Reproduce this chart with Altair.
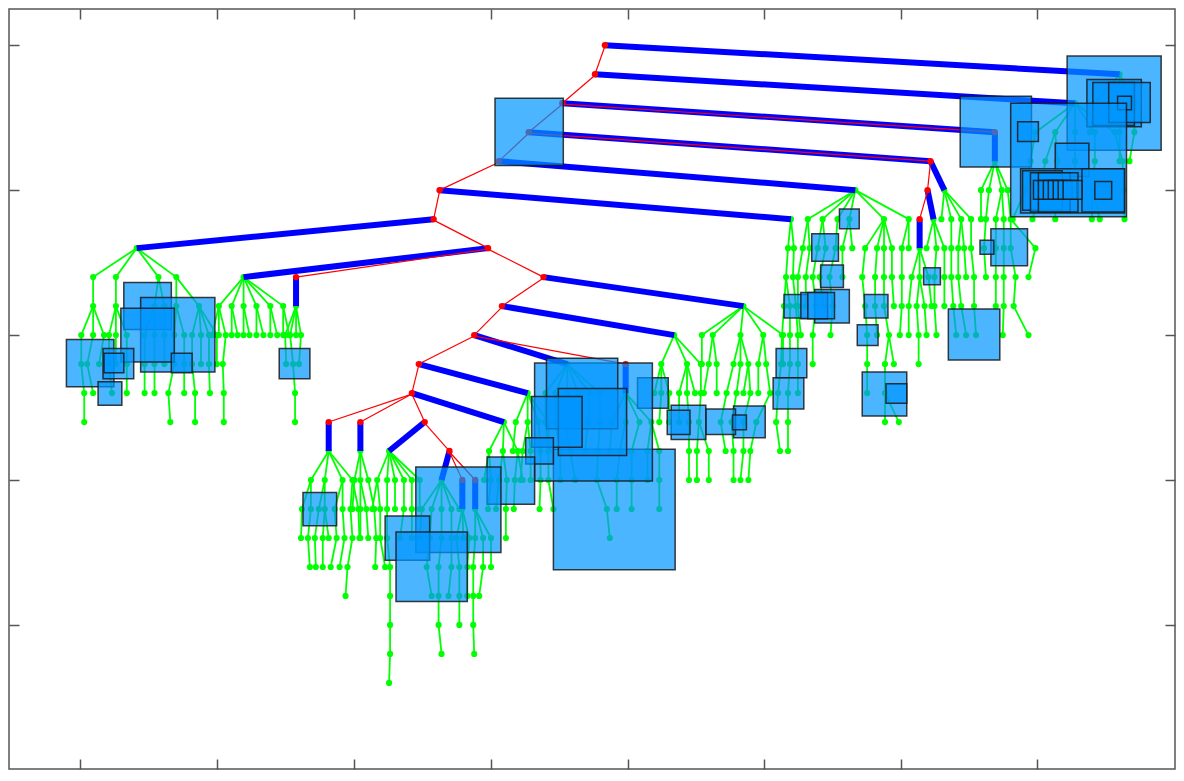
import altair as alt
import pandas as pd

# ---- spine (red) nodes: name, x, depth ----
spine_name = ["A", "B", "C", "D", "E", "F", "G", "H", "I", "J", "K", "L", "M",
              "N1", "N2", "O", "P", "Q1", "Q2", "S1", "S2", "S3", "S4", "S5", "S6"]
spine_x = [605, 595, 562, 528, 498, 438, 432, 487, 543, 501, 473, 417, 410,
           326, 358, 423, 448, 461, 474, 293, 999, 934, 931, 923, 626]
spine_depth = [0, 1, 2, 3, 4, 5, 6, 7, 8, 9, 10, 11, 12,
               13, 13, 13, 14, 15, 15, 8, 3, 4, 5, 6, 11]

red_edges = [("A", "B"), ("B", "C"), ("C", "D"), ("D", "E"), ("E", "F"), ("F", "G"),
             ("G", "H"), ("H", "I"), ("I", "J"), ("J", "K"), ("K", "L"), ("L", "M"),
             ("M", "N1"), ("M", "N2"), ("M", "O"), ("O", "P"), ("P", "Q1"), ("P", "Q2"),
             ("H", "S1"), ("C", "S2"), ("D", "S3"), ("S3", "S4"), ("S4", "S5"), ("K", "S6")]

blue_edges = [("A", "T23"), ("B", "T22"), ("C", "S2"), ("S2", "T21"), ("D", "S3"),
              ("S3", "T20"), ("S4", "T19"), ("S5", "T18"), ("E", "T17"), ("F", "T16"),
              ("G", "T1"), ("H", "T2"), ("S1", "T3"), ("I", "T15"), ("J", "T14"),
              ("K", "T12"), ("S6", "T13"), ("L", "T11"), ("M", "T10"), ("N1", "T4"),
              ("N2", "T5"), ("O", "T6"), ("P", "T7"), ("Q1", "T8"), ("Q2", "T9")]

# ---- green subtrees: root x, root depth, levels of [x, parent index] ----
tree_name = ["T1", "T2", "T3", "T4", "T5", "T6", "T7", "T8", "T9", "T10", "T11", "T12",
             "T13", "T14", "T15", "T16", "T17", "T18", "T19", "T20", "T21", "T22", "T23"]
tree_root_x = [132, 240, 293, 326, 358, 387, 440, 461, 474, 503, 527, 567,
               626, 675, 745, 793, 858, 923, 937, 948, 999, 1080, 1125]
tree_root_depth = [7, 8, 9, 14, 14, 14, 15, 16, 16, 13, 12, 11,
                   12, 10, 9, 6, 5, 7, 6, 5, 4, 2, 1]

tree_levels = {
    "T1": [[[88, 0], [111, 0], [154, 0], [172, 0]],
           [[88, 0], [111, 1], [150, 2], [160, 2], [172, 3], [195, 3]],
           [[76, 0], [88, 0], [99, 0], [104, 1], [111, 1], [122, 1], [140, 2], [150, 2], [160, 3],
            [170, 4], [180, 4], [188, 5], [197, 5], [205, 5], [213, 5]],
           [[76, 0], [82, 1], [94, 2], [104, 3], [111, 4], [122, 5], [140, 6], [150, 7], [160, 8],
            [170, 9], [180, 10], [188, 11], [197, 12], [205, 13], [213, 14]],
           [[79, 0], [88, 1], [107, 3], [122, 5], [140, 6], [150, 7], [164, 9], [180, 10], [191, 11],
            [206, 13]],
           [[79, 0], [166, 6], [191, 8]]],
    "T2": [[[215, 0], [228, 0], [240, 0], [253, 0], [267, 0], [280, 0]],
           [[208, 0], [215, 0], [222, 0], [228, 1], [234, 1], [240, 2], [246, 2], [253, 3], [260, 3],
            [267, 4], [274, 4], [280, 5], [286, 5]],
           [[219, 2]], [[220, 0]], [[220, 0]]],
    "T3": [[[282, 0], [287, 0], [293, 0], [298, 0]],
           [[283, 0], [290, 1], [296, 3]], [[292, 1]], [[292, 0]]],
    "T4": [[[308, 0], [322, 0], [340, 0], [350, 0]],
           [[299, 0], [308, 0], [316, 1], [322, 1], [332, 2], [340, 2], [348, 3], [356, 3]],
           [[298, 0], [305, 1], [312, 2], [320, 3], [326, 3], [334, 4], [342, 5], [350, 6], [357, 7]],
           [[307, 1], [313, 2], [320, 3], [328, 5], [337, 6], [345, 7]],
           [[343, 5]]],
    "T5": [[[352, 0], [358, 0], [366, 0]],
           [[350, 0], [358, 1], [364, 1], [372, 2]],
           [[358, 1], [366, 2], [374, 3]], [[373, 2]]],
    "T6": [[[375, 0], [385, 0], [393, 0], [402, 0], [410, 0], [418, 0]],
           [[370, 0], [378, 0], [385, 1], [393, 2], [402, 3], [410, 4], [418, 5]],
           [[378, 1], [385, 2], [398, 4], [410, 5]],
           [[383, 0], [388, 1]], [[388, 1]], [[388, 0]], [[388, 0]], [[387, 0]]],
    "T7": [[[420, 0], [430, 0], [440, 0], [450, 0], [458, 0]],
           [[418, 0], [428, 1], [440, 2], [450, 3]],
           [[425, 1], [437, 2], [450, 3]],
           [[430, 0], [437, 1], [447, 2]], [[437, 1]], [[440, 0]]],
    "T8": [[[455, 0], [462, 0], [468, 0]], [[458, 0], [466, 2]],
           [[458, 0], [466, 1]], [[458, 0]]],
    "T9": [[[474, 0], [482, 0], [490, 0]], [[472, 0], [482, 1], [490, 2]],
           [[472, 0], [478, 1]], [[472, 0]], [[473, 0]]],
    "T10": [[[488, 0], [502, 0], [517, 0]],
            [[483, 0], [490, 0], [498, 1], [506, 1], [514, 2], [522, 2]],
            [[487, 1], [495, 2], [505, 3], [513, 4]], [[505, 2]]],
    "T11": [[[515, 0], [527, 0], [538, 0], [548, 0]],
            [[512, 0], [522, 1], [530, 1], [540, 2], [548, 3]],
            [[520, 1], [530, 2], [540, 3], [548, 4]], [[539, 2], [553, 3]]],
    "T12": [[[545, 0], [555, 0], [567, 0], [578, 0], [590, 0], [600, 0]],
            [[545, 0], [555, 1], [565, 2], [575, 3], [588, 4], [600, 5]],
            [[548, 0], [560, 1], [570, 2], [585, 4], [598, 5]],
            [[560, 1], [575, 2], [597, 4]], [[607, 2]], [[610, 0]]],
    "T13": [[[612, 0], [626, 0], [640, 0], [652, 0]],
            [[610, 0], [620, 1], [632, 2], [648, 3], [660, 3]],
            [[617, 1], [632, 2], [648, 3], [660, 4]],
            [[617, 0], [632, 1], [660, 3]]],
    "T14": [[[662, 0], [688, 0], [702, 0]],
            [[655, 0], [662, 0], [670, 0], [680, 1], [688, 1], [696, 1], [702, 2]],
            [[660, 1], [670, 2], [680, 3], [690, 4], [700, 6]],
            [[690, 3], [698, 4], [710, 4]],
            [[690, 0], [698, 1], [710, 2]]],
    "T15": [[[703, 0], [714, 0], [742, 0], [765, 0], [785, 0]],
            [[703, 0], [710, 1], [718, 1], [735, 2], [742, 2], [750, 2], [760, 3], [768, 3], [785, 4]],
            [[705, 1], [718, 2], [728, 3], [738, 4], [745, 5], [752, 5], [760, 6], [772, 7]],
            [[722, 2], [733, 3], [745, 5], [758, 7]],
            [[727, 0], [735, 1], [745, 2], [752, 3]],
            [[735, 1], [742, 2], [750, 3]]],
    "T16": [[[790, 0], [796, 0]], [[788, 0], [795, 1]],
            [[786, 0], [792, 0], [798, 1]], [[784, 0], [792, 1], [800, 2]],
            [[783, 0], [792, 1], [800, 2]], [[780, 0], [790, 1], [800, 2]],
            [[778, 0], [790, 1]], [[782, 0], [790, 1]]],
    "T17": [[[810, 0], [825, 0], [840, 0], [852, 0], [887, 0], [912, 0]],
            [[805, 0], [812, 0], [820, 1], [828, 1], [838, 2], [845, 3], [855, 3], [868, 4], [880, 4],
             [887, 4], [895, 4], [905, 5], [912, 5]],
            [[800, 0], [808, 1], [815, 2], [822, 3], [832, 4], [845, 5], [865, 7], [878, 8], [887, 9],
             [895, 10], [905, 11]],
            [[800, 0], [808, 1], [818, 2], [826, 3], [835, 4], [868, 6], [878, 7], [887, 8], [897, 9],
             [905, 10]],
            [[803, 0], [815, 2], [833, 4], [870, 5], [880, 6], [892, 7], [903, 9]],
            [[815, 1], [870, 3], [888, 5], [897, 5]],
            [[870, 1], [888, 2]], [[888, 1], [902, 1]]],
    "T18": [[[915, 0], [923, 0], [932, 0]], [[912, 0], [920, 1], [928, 1], [935, 2]],
            [[912, 0], [922, 1], [930, 2]], [[922, 1]]],
    "T19": [[[930, 0], [940, 0], [948, 0]], [[938, 1], [948, 2]],
            [[938, 0], [948, 1]], [[940, 0]]],
    "T20": [[[945, 0], [955, 0], [965, 0], [975, 0]],
            [[955, 1], [962, 2], [968, 2], [975, 3]],
            [[955, 0], [962, 1], [970, 2], [978, 3]],
            [[957, 0], [965, 1], [978, 3]], [[960, 0], [970, 1], [980, 2]]],
    "T21": [[[985, 0], [993, 0], [1006, 0], [1012, 0]],
            [[985, 0], [990, 1], [1000, 2], [1008, 2], [1015, 3]],
            [[988, 1], [1000, 2], [1008, 3], [1015, 4], [1040, 4]],
            [[990, 0], [1000, 1], [1008, 2], [1020, 3], [1033, 4]],
            [[1000, 1], [1008, 2], [1018, 3]], [[1007, 1], [1033, 2]]],
    "T22": [[[1040, 0], [1060, 0], [1080, 0], [1100, 0], [1120, 0]],
            [[1035, 0], [1050, 1], [1062, 1], [1080, 2], [1100, 3], [1128, 4]],
            [[1030, 0], [1045, 1], [1060, 2], [1080, 3], [1098, 4], [1129, 5]],
            [[1017, 0], [1037, 1], [1060, 2], [1097, 4], [1105, 4], [1130, 5]]],
    "T23": [[[1100, 0], [1125, 0], [1140, 0]], [[1095, 0], [1125, 1], [1140, 2]],
            [[1125, 1], [1135, 2]]],
}

# ---- squares: x1, x2, depth1, depth2 ----
sq_x1 = [494, 1072, 1092, 1098, 1114, 1123, 964, 1015, 1022, 1060, 1025, 1087, 1100,
         1027, 1035, 1043, 1038, 1043, 1048, 1053, 1058, 1063, 1068,
         995, 984, 927, 842, 814, 823, 817, 786, 803, 810, 867, 860, 952, 865, 889,
         778, 775, 735, 707, 734, 638, 672, 668, 553, 534, 546, 558, 531, 525, 486,
         414, 383, 394, 300, 276, 119, 136, 116, 61, 98, 99, 93, 167]
sq_x2 = [563, 1167, 1147, 1140, 1156, 1137, 1036, 1132, 1043, 1094, 1130, 1130, 1117,
         1067, 1075, 1083, 1057, 1062, 1067, 1072, 1077, 1082, 1087,
         1032, 998, 944, 862, 841, 846, 852, 810, 830, 837, 891, 881, 1004, 910, 910,
         809, 806, 767, 737, 748, 669, 707, 691, 676, 653, 618, 627, 582, 553, 534,
         500, 428, 466, 334, 307, 167, 211, 170, 109, 129, 119, 117, 188]
sq_d1 = [1.83, 0.37, 1.18, 1.29, 1.29, 1.76, 1.76, 2.00, 2.64, 3.38, 4.26, 4.26, 4.70,
         4.33, 4.40, 4.40, 4.67, 4.67, 4.67, 4.67, 4.67, 4.67, 4.67,
         6.33, 6.73, 7.68, 5.65, 6.50, 7.58, 8.43, 8.60, 8.53, 8.53, 8.60, 9.64, 9.10, 11.27, 11.68,
         10.46, 11.47, 12.45, 12.55, 12.76, 11.47, 12.42, 12.59, 13.94, 10.96, 10.80, 11.84, 12.12,
         13.54, 14.21, 14.55, 16.24, 16.79, 15.43, 10.46, 8.19, 8.70, 9.07, 10.15, 10.46, 10.63,
         11.61, 10.63]
sq_d2 = [4.15, 3.62, 2.81, 2.77, 2.67, 2.23, 4.20, 5.92, 3.32, 4.53, 5.79, 5.75, 5.31,
         5.69, 5.75, 5.75, 5.31, 5.31, 5.31, 5.31, 5.31, 5.31, 5.31,
         7.61, 7.21, 8.26, 6.33, 7.45, 8.36, 9.58, 9.41, 9.44, 9.44, 9.41, 10.36, 10.86, 12.79, 12.35,
         11.47, 12.55, 13.54, 13.43, 13.27, 12.52, 13.60, 13.43, 18.10, 15.03, 13.23, 14.15, 13.87,
         14.45, 15.84, 17.50, 17.77, 19.19, 16.58, 11.51, 9.81, 11.27, 10.93, 11.78, 11.51, 11.30,
         12.42, 11.30]

x_ticks = [75, 213, 352, 490, 628, 766, 904, 1042]
y_ticks = [0, 5, 10, 15, 20]

# ---- assemble tables ----
pos = {n: (x, d) for n, x, d in zip(spine_name, spine_x, spine_depth)}
for n, x, d in zip(tree_name, tree_root_x, tree_root_depth):
    pos[n] = (x, d)

green_e, green_p = [], []
for n, rx, rd in zip(tree_name, tree_root_x, tree_root_depth):
    prev = [(rx, rd)]
    green_p.append({"x": rx, "y": rd})
    for lvl in tree_levels[n]:
        cur = []
        for cx, pi in lvl:
            px, pd_ = prev[pi]
            cd = pd_ + 1
            green_e.append({"x": px, "y": pd_, "x2": cx, "y2": cd})
            green_p.append({"x": cx, "y": cd})
            cur.append((cx, cd))
        prev = cur

red_e = [{"x": pos[a][0], "y": pos[a][1], "x2": pos[b][0], "y2": pos[b][1]} for a, b in red_edges]
blue_e = [{"x": pos[a][0], "y": pos[a][1], "x2": pos[b][0], "y2": pos[b][1]} for a, b in blue_edges]
red_p = pd.DataFrame({"x": spine_x, "y": spine_depth})
squares = pd.DataFrame({"x": sq_x1, "x2": sq_x2, "y": sq_d1, "y2": sq_d2})

xs = alt.Scale(domain=[3, 1181], nice=False, zero=False)
ys = alt.Scale(domain=[-1.25, 24.97], nice=False, zero=False, reverse=True)

tick_common = dict(labels=False, domain=False, ticks=True, tickSize=10, tickWidth=1.5,
                   tickColor="#555555", grid=False, offset=-10)
ax_bottom = alt.Axis(orient="bottom", values=x_ticks, **tick_common)
ax_top = alt.Axis(orient="top", values=x_ticks, **tick_common)
ax_left = alt.Axis(orient="left", values=y_ticks, **tick_common)
ax_right = alt.Axis(orient="right", values=y_ticks, **tick_common)


def seg_layer(df, color, width, xa=None, ya=None, yoff=0):
    xe = alt.X("x:Q", scale=xs, title=None, axis=xa) if xa is not None else alt.X("x:Q", scale=xs, axis=None)
    ye = alt.Y("y:Q", scale=ys, title=None, axis=ya) if ya is not None else alt.Y("y:Q", scale=ys, axis=None)
    return alt.Chart(pd.DataFrame(df)).mark_rule(color=color, strokeWidth=width, yOffset=yoff).encode(
        x=xe, y=ye, x2="x2:Q", y2="y2:Q")


green_lines = seg_layer(green_e, "#00ff00", 1.8, ax_bottom, ax_left)
green_pts = alt.Chart(pd.DataFrame(green_p)).mark_circle(color="#00ff00", size=38, opacity=1).encode(
    x=alt.X("x:Q", scale=xs, axis=None), y=alt.Y("y:Q", scale=ys, axis=None))
blue_lines = seg_layer(blue_e, "#0000ff", 6)
red_lines = seg_layer(red_e, "#ff0000", 1.2, yoff=1)
red_pts = alt.Chart(red_p).mark_circle(color="#ff0000", size=40, opacity=1).encode(
    x=alt.X("x:Q", scale=xs, axis=None), y=alt.Y("y:Q", scale=ys, axis=None))
sq = alt.Chart(squares).mark_rect(fill="#0096ff", fillOpacity=0.7, stroke="#1a1a1a",
                                  strokeWidth=1.5, strokeOpacity=0.85).encode(
    x=alt.X("x:Q", scale=xs, title=None, axis=ax_top),
    x2="x2:Q",
    y=alt.Y("y:Q", scale=ys, title=None, axis=ax_right),
    y2="y2:Q")

chart = alt.layer(green_lines, green_pts, blue_lines, red_lines, red_pts, sq).resolve_axis(
    x="independent", y="independent"
).properties(
    width=1166, height=760,
    autosize=alt.AutoSizeParams(type="none"),
    padding={"left": 1, "top": 1, "right": 1, "bottom": 1},
).configure_view(stroke="#555555", strokeWidth=1.5)

chart.save("out.html", embed_options={"renderer": "svg", "actions": False})
